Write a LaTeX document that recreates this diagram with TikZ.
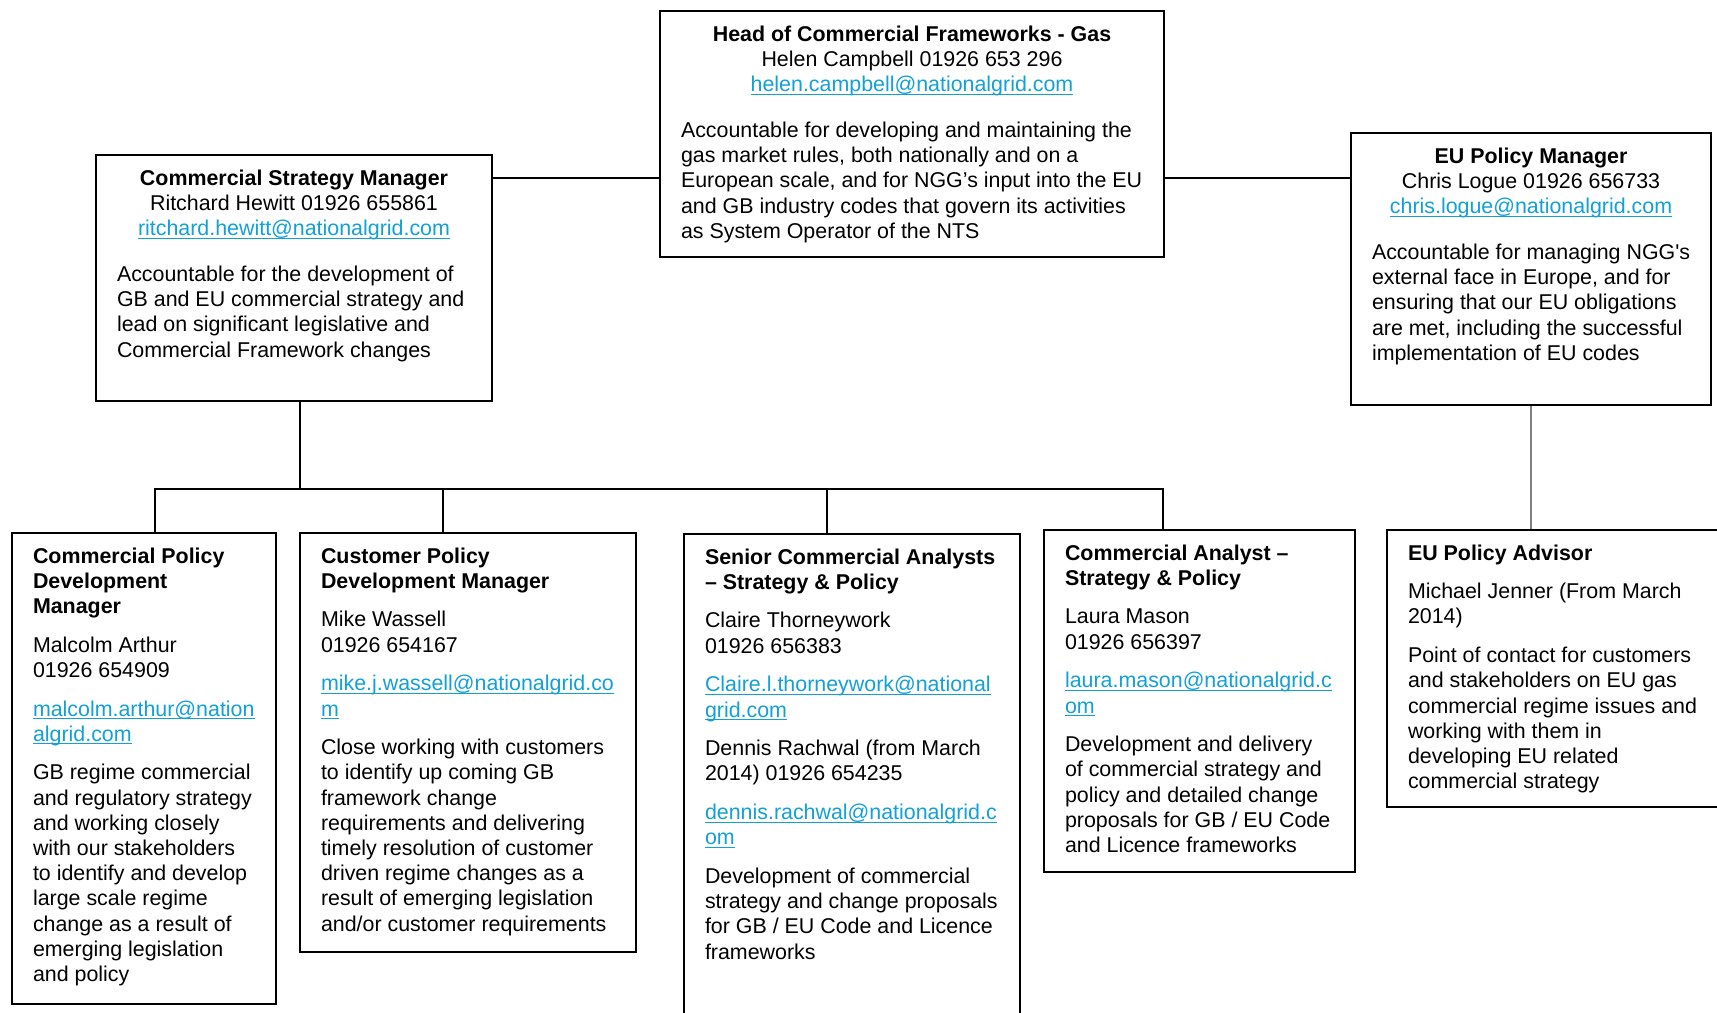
\documentclass[tikz,border=0pt]{standalone}
\usepackage{fontspec}
\setmainfont{Liberation Sans}[Ligatures=TeXOff]
\definecolor{linkblue}{RGB}{18,160,214}
\newcommand{\cardfont}{\fontsize{10.7pt}{12.6pt}\selectfont}
\newcommand{\mail}[1]{\textcolor{linkblue}{\setbox0=\hbox{#1}\rlap{\rule[-1.6pt]{\wd0}{0.5pt}}\box0}}
\newcommand{\card}[3]{\parbox[t][#2][t]{#1}{\raggedright\leftskip=10.5pt\relax #3}}
\newcommand{\firstline}{\rule{0pt}{15pt}}
\newcommand{\headgap}{\par\vspace{10.4pt}}
\newcommand{\cardgap}{\par\vspace{6.75pt}}

\begin{document}
\begin{tikzpicture}[x=0.5pt, y=-0.5pt,
    card/.style={draw, line width=1pt, inner sep=0pt, anchor=north west, font=\cardfont},
    link/.style={line width=1pt},
    thinlink/.style={line width=0.65pt, gray}]
    \useasboundingbox (0,0) rectangle (1717,1012);
    \clip (0,0) rectangle (1717,1012);

    \node[card] (head) at (659,10){\card{252pt}{123pt}{%
        {\centering\firstline\textbf{Head of Commercial Frameworks - Gas}\\
        Helen Campbell 01926 653 296\\
        \mail{helen.campbell@nationalgrid.com}\par}\headgap
        Accountable for developing and maintaining the\\
        gas market rules, both nationally and on a\\
        European scale, and for NGG’s input into the EU\\
        and GB industry codes that govern its activities\\
        as System Operator of the NTS}};

    \node[card] (csm) at (95,154){\card{198pt}{123pt}{%
        {\centering\firstline\textbf{Commercial Strategy Manager}\\
        Ritchard Hewitt 01926 655861\\
        \mail{ritchard.hewitt@nationalgrid.com}\par}\headgap
        Accountable for the development of\\
        GB and EU commercial strategy and\\
        lead on significant legislative and\\
        Commercial Framework changes}};

    \node[card] (eum) at (1350,132){\card{180pt}{136pt}{%
        {\centering\firstline\textbf{EU Policy Manager}\\
        Chris Logue 01926 656733\\
        \mail{chris.logue@nationalgrid.com}\par}\headgap
        Accountable for managing NGG's\\
        external face in Europe, and for\\
        ensuring that our EU obligations\\
        are met, including the successful\\
        implementation of EU codes}};

    \node[card] (cpdm) at (11,532){\card{132pt}{235.5pt}{%
        \firstline\textbf{Commercial Policy\\ Development\\ Manager}\cardgap
        Malcolm Arthur\\ 01926 654909\cardgap
        \mail{malcolm.arthur@nation}\\ \mail{algrid.com}\cardgap
        GB regime commercial\\ and regulatory strategy\\ and working closely\\
        with our stakeholders\\ to identify and develop\\ large scale regime\\
        change as a result of\\ emerging legislation\\ and policy}};

    \node[card] (cpm) at (299,532){\card{168pt}{209.5pt}{%
        \firstline\textbf{Customer Policy\\ Development Manager}\cardgap
        Mike Wassell\\ 01926 654167\cardgap
        \mail{mike.j.wassell@nationalgrid.co}\\ \mail{m}\cardgap
        Close working with customers\\ to identify up coming GB\\ framework change\\
        requirements and delivering\\ timely resolution of customer\\
        driven regime changes as a\\ result of emerging legislation\\
        and/or customer requirements}};

    \node[card] (sca) at (683,533){\card{168pt}{260pt}{%
        \firstline\textbf{Senior Commercial Analysts\\ – Strategy \& Policy}\cardgap
        Claire Thorneywork\\ 01926 656383\cardgap
        \mail{Claire.l.thorneywork@national}\\ \mail{grid.com}\cardgap
        Dennis Rachwal (from March\\ 2014) 01926 654235\cardgap
        \mail{dennis.rachwal@nationalgrid.c}\\ \mail{om}\cardgap
        Development of commercial\\ strategy and change proposals\\
        for GB / EU Code and Licence\\ frameworks}};

    \node[card] (ca) at (1043,529){\card{155.5pt}{171pt}{%
        \firstline\textbf{Commercial Analyst –\\ Strategy \& Policy}\cardgap
        Laura Mason\\ 01926 656397\cardgap
        \mail{laura.mason@nationalgrid.c}\\ \mail{om}\cardgap
        Development and delivery\\ of commercial strategy and\\
        policy and detailed change\\ proposals for GB / EU Code\\
        and Licence frameworks}};

    \node[card] (eua) at (1386,529){\card{168pt}{138.5pt}{%
        \firstline\textbf{EU Policy Advisor}\cardgap
        Michael Jenner (From March\\ 2014)\cardgap
        Point of contact for customers\\ and stakeholders on EU gas\\
        commercial regime issues and\\ working with them in\\
        developing EU related\\ commercial strategy}};

    \coordinate (hline) at (0,178);
    \coordinate (bus) at (0,489);
    \coordinate (d1) at (155,489);
    \coordinate (d2) at (443,489);
    \coordinate (d3) at (827,489);
    \coordinate (d4) at (1163,489);

    \draw[link] (csm.east |- hline) -- (head.west |- hline);
    \draw[link] (head.east |- hline) -- (eum.west |- hline);
    \draw[link] ([xshift=3pt]csm.south) -- ([xshift=3pt]csm.south |- bus);
    \draw[link] (d1 |- cpdm.north) -- (d1) -- (d4) -- (d4 |- ca.north);
    \foreach \d/\n in {d2/cpm, d3/sca}
        \draw[link] (\d) -- (\d |- \n.north);
    \draw[thinlink] (eum.south) -- (eum.south |- eua.north);
\end{tikzpicture}
\end{document}
